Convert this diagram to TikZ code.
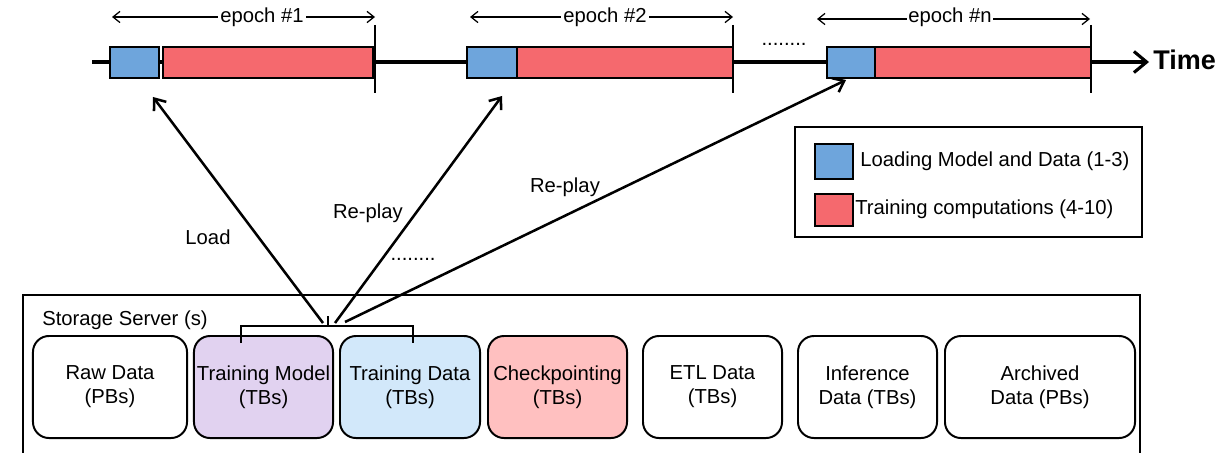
\documentclass[tikz,border=0pt]{standalone}
\usepackage{fontspec}
\setmainfont{Liberation Sans}
\usepackage{xcolor}
\usetikzlibrary{arrows.meta, positioning}

\definecolor{loadblue}{RGB}{110,165,220}
\definecolor{trainred}{RGB}{245,105,110}
\definecolor{modelpurple}{RGB}{225,210,240}
\definecolor{datablue}{RGB}{210,232,250}
\definecolor{ckptpink}{RGB}{255,192,192}

\tikzset{
  store/.style={draw, line width=1.4pt, rounded corners=0.4cm, minimum height=2.55cm, minimum width=3.475cm, align=center, inner sep=1pt, font=\fontsize{14.4}{17}\selectfont},
  phase/.style={draw, line width=1.1pt, minimum height=0.775cm, inner sep=0pt},
  flow/.style={-{Straight Barb[length=7pt,width=11pt]}, line width=1.8pt},
  span/.style={{Straight Barb[length=5pt,width=8pt]}-{Straight Barb[length=5pt,width=8pt]}, line width=0.9pt},
  lbl/.style={font=\fontsize{14.4}{17}\selectfont},
}

\begin{document}
\begin{tikzpicture}[x=0.025cm, y=-0.025cm]
\useasboundingbox (0,0) rectangle (1218,453);
% Time axis
\coordinate (tstart) at (92,62);
\coordinate (tend) at (1149,62);
\draw[line width=2.2pt, -{Straight Barb[length=9pt,width=15pt]}] (tstart) -- (tend);
\node[font=\bfseries\fontsize{19.2}{22}\selectfont, anchor=west, inner sep=0pt] (time) at (1153,60) {Time};
% Epoch ends
\draw[line width=1.5pt] (375,25) -- (375,93);
\draw[line width=1.5pt] (733,25) -- (733,93);
\draw[line width=1.5pt] (1091,25) -- (1091,93);
% Epoch phases
\node[phase, fill=loadblue, minimum width=1.225cm] (load1) at (134.5,62.5) {};
\node[phase, fill=trainred, minimum width=5.25cm] (train1) at (268,62.5) {};
\node[phase, fill=loadblue, minimum width=1.25cm] (load2) at (492,62.5) {};
\node[phase, fill=trainred, minimum width=5.4cm] (train2) at (625,62.5) {};
\node[phase, fill=loadblue, minimum width=1.2cm] (loadn) at (851,62.5) {};
\node[phase, fill=trainred, minimum width=5.4cm] (trainn) at (983,62.5) {};
\node[lbl] (tdots) at (784,44) {........};
% Epoch spans
\coordinate (ep1s) at (112,17);
\coordinate (ep1e) at (375,17);
\draw[span] (ep1s) -- (ep1e);
\node[lbl, fill=white, inner sep=2pt] (ep1) at (262,17) {epoch \#1};
\coordinate (ep2s) at (470,17);
\coordinate (ep2e) at (733,17);
\draw[span] (ep2s) -- (ep2e);
\node[lbl, fill=white, inner sep=2pt] (ep2) at (605,17) {epoch \#2};
\coordinate (epns) at (817,19);
\coordinate (epne) at (1090,19);
\draw[span] (epns) -- (epne);
\node[lbl, fill=white, inner sep=1pt] (epn) at (950,17) {epoch \#n};
% Legend
\draw[line width=1.1pt] (795,127) rectangle (1142,237);
\node[phase, fill=loadblue, minimum width=0.95cm, minimum height=0.875cm] (keyload) at (834,161.5) {};
\node[lbl, anchor=west, inner sep=0pt] (keyloadtxt) at (860,161) {Loading Model and Data (1-3)};
\node[phase, fill=trainred, minimum width=0.95cm, minimum height=0.8cm] (keytrain) at (834,210) {};
\node[lbl, anchor=west, inner sep=0pt] (keytraintxt) at (855,209) {Training computations (4-10)};
% Storage server
\draw[line width=1pt] (23,460) -- (23,295) -- (1140,295) -- (1140,460);
\node[lbl, anchor=west, inner sep=0pt] (server) at (42,320) {Storage Server (s)};
\node[store, minimum width=3.85cm] (raw) at (110,387) {Raw Data\\(PBs)};
\node[store, fill=modelpurple] (model) at (263.5,387) {Training Model\\(TBs)};
\node[store, fill=datablue, minimum width=3.5cm] (tdata) at (410,387) {Training Data\\(TBs)};
\node[store, fill=ckptpink] (ckpt) at (557.5,387) {Checkpointing\\(TBs)};
\node[store] (etl) at (712.5,387) {ETL Data\\(TBs)};
\node[store] (infer) at (867.5,387) {Inference\\Data (TBs)};
\node[store, minimum width=4.75cm] (arch) at (1040,387) {Archived\\Data (PBs)};
% Bracket over model and data
\draw[line width=1.4pt] (241,343) -- (241,326) -- (413,326) -- (413,343);
\draw[line width=1.4pt] (328,326) -- (328,316);
% Load / replay arrows
\coordinate (src1) at (323,323);
\coordinate (src2) at (335,323);
\coordinate (src3) at (345,322);
\coordinate (dst1) at (153,97);
\coordinate (dst2) at (502,96);
\coordinate (dst3) at (846,80);
\draw[flow] (src1) -- (dst1);
\draw[flow] (src2) -- (dst2);
\draw[flow] (src3) -- (dst3);
\node[lbl] (loadlbl) at (208,237) {Load};
\node[lbl] (replay1) at (368,213) {Re-play};
\node[lbl] (replay2) at (565,187) {Re-play};
\node[lbl] (adots) at (413,259) {........};
\end{tikzpicture}
\end{document}
